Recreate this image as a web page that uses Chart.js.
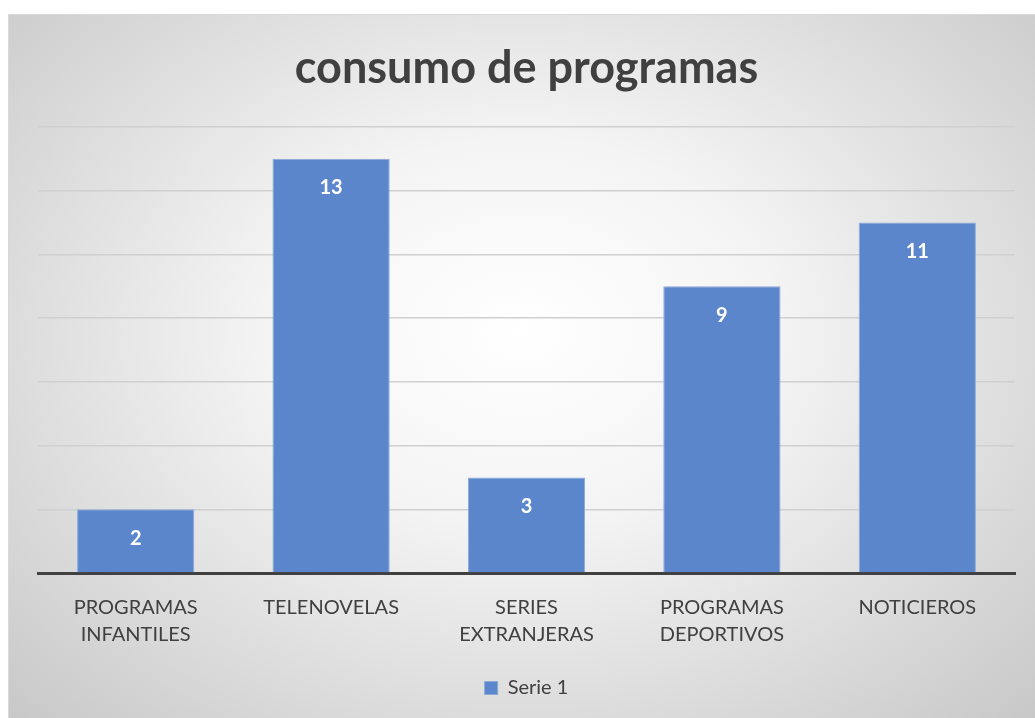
<!DOCTYPE html>
<html>
<head>
<meta charset="utf-8">
<script src="https://cdn.jsdelivr.net/npm/chart.js@4"></script>
<style>
    body { margin: 0; background: #ffffff; }
    #caja {
        position: absolute; left: 8px; top: 14px; width: 1027px; height: 704px;
        background: radial-gradient(ellipse at 50% 45%, #ffffff 0%, #f4f4f4 35%, #c8c8c8 100%);
        border-left: 1px solid #d9d9d9; border-top: 1px solid #d9d9d9;
        box-sizing: border-box;
    }
</style>
</head>
<body>
<div id="caja"><canvas id="graphCanvas"></canvas></div>
<script>
// datos del grafico
var etiquetas = [["PROGRAMAS", "INFANTILES"], "TELENOVELAS", ["SERIES", "EXTRANJERAS"], ["PROGRAMAS", "DEPORTIVOS"], "NOTICIEROS"];
var valores = [2, 13, 3, 9, 11];
var nombreSerie = "Serie 1";
var titulo = "consumo de programas";

// etiquetas blancas dentro de la barra
var etiquetasValor = {
    id: 'etiquetasValor',
    afterDatasetsDraw: function (chart) {
        var ctx = chart.ctx;
        var meta = chart.getDatasetMeta(0);
        ctx.save();
        ctx.fillStyle = '#ffffff';
        ctx.font = 'bold 20px Lato';
        ctx.textAlign = 'center';
        ctx.textBaseline = 'middle';
        meta.data.forEach(function (bar, i) {
            ctx.fillText(String(valores[i]), bar.x, bar.y + 29);
        });
        ctx.restore();
    }
};

var chartdata = {
    labels: etiquetas,
    datasets: [
    {
        label: nombreSerie,
        backgroundColor: '#5b86cb',
        borderColor: '#8aa8da',
        borderWidth: 1,
        data: valores,
        categoryPercentage: 1,
        barPercentage: 0.6
    }
    ]
};

window.grafica = new Chart(document.getElementById("graphCanvas"), {
    type: 'bar',
    data: chartdata,
    plugins: [etiquetasValor],
    options: {
        responsive: true,
        maintainAspectRatio: false,
        animation: false,
        layout: { padding: { left: 29, right: 20, top: 0, bottom: 10 } },
        plugins: {
            title: {
                display: true,
                text: titulo,
                color: '#404040',
                font: { family: 'Lato', size: 45, weight: 'bold' },
                padding: { top: 26, bottom: 32 }
            },
            legend: {
                position: 'bottom',
                labels: {
                    color: '#404040',
                    font: { family: 'Lato', size: 20 },
                    boxWidth: 13,
                    boxHeight: 13,
                    padding: 17
                }
            },
            tooltip: { enabled: false }
        },
        scales: {
            x: {
                grid: { display: false },
                border: { display: true, color: '#404040', width: 3 },
                ticks: {
                    color: '#404040',
                    font: { family: 'Lato', size: 20, lineHeight: 1.35 },
                    padding: 13,
                    maxRotation: 0
                }
            },
            y: {
                min: 0,
                max: 14,
                ticks: { stepSize: 2, display: false },
                border: { display: false },
                grid: { color: '#d0d0d0', lineWidth: 1.5, drawTicks: false }
            }
        }
    }
});
</script>
</body>
</html>
